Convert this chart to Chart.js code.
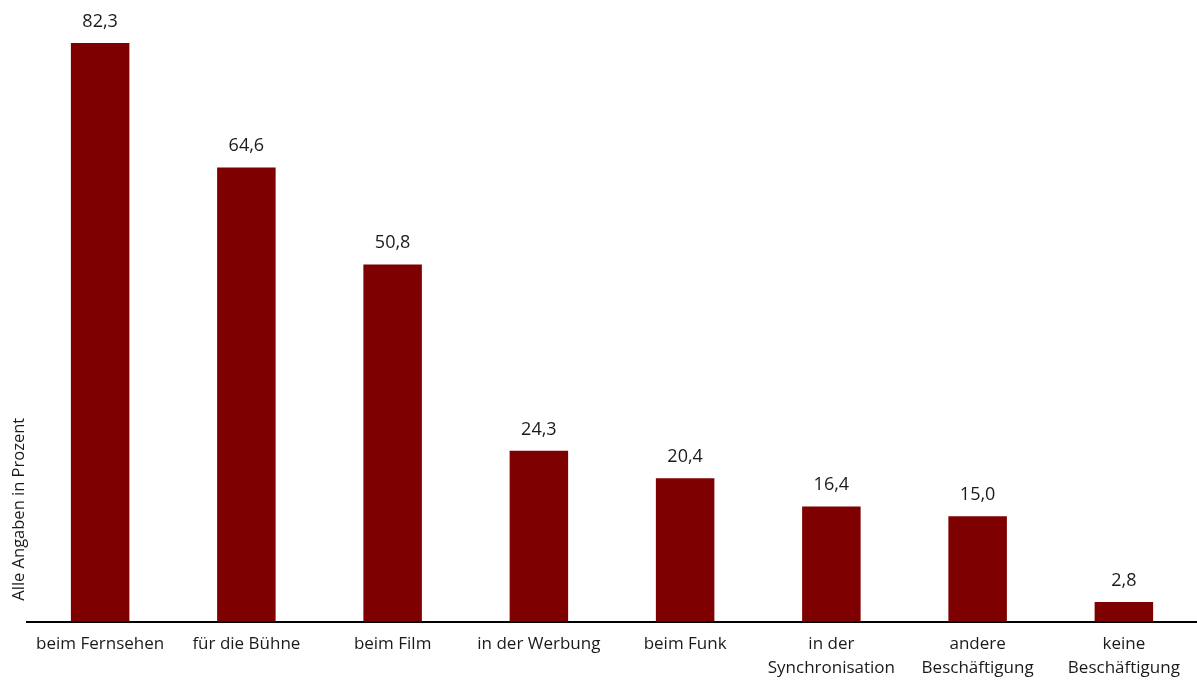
<!DOCTYPE html>
<html>
<head>
<meta charset="utf-8">
<script src="https://cdn.jsdelivr.net/npm/chart.js@4/dist/chart.umd.min.js"></script>
<style>
  html, body { margin: 0; padding: 0; background: #fff; }
  #wrap { width: 1197px; height: 680px; position: relative; }
</style>
</head>
<body>
<div id="wrap"><canvas id="chart"></canvas></div>
<script>
// Daten
const categories = [
    ["beim Fernsehen"],
    ["für die Bühne"],
    ["beim Film"],
    ["in der Werbung"],
    ["beim Funk"],
    ["in der", "Synchronisation"],
    ["andere", "Beschäftigung"],
    ["keine", "Beschäftigung"]
];
const values = [82.3, 64.6, 50.8, 24.3, 20.4, 16.4, 15.0, 2.8];
const axisTitle = "Alle Angaben in Prozent";

const barColor = "#7f0000";
const textColor = "#1a1a1a";
const fontFamily = "'Open Sans', 'Noto Sans', sans-serif";

// Werte über den Balken
const valueLabels = {
    id: 'valueLabels',
    afterDatasetsDraw(chart) {
        const ctx = chart.ctx;
        const meta = chart.getDatasetMeta(0);
        ctx.save();
        ctx.font = "18px " + fontFamily;
        ctx.fillStyle = textColor;
        ctx.textAlign = 'center';
        ctx.textBaseline = 'alphabetic';
        meta.data.forEach((bar, i) => {
            const txt = values[i].toFixed(1).replace('.', ',');
            ctx.fillText(txt, bar.x, bar.y - 16);
        });
        ctx.restore();
    }
};

// Achsentitel links
const yTitle = {
    id: 'yTitle',
    afterDraw(chart) {
        const ctx = chart.ctx;
        ctx.save();
        ctx.translate(24, chart.chartArea.bottom - 21);
        ctx.rotate(-Math.PI / 2);
        ctx.font = "16.5px " + fontFamily;
        ctx.fillStyle = textColor;
        ctx.textAlign = 'left';
        ctx.fillText(axisTitle, 0, 0);
        ctx.restore();
    }
};

const ctx = document.getElementById('chart').getContext('2d');
const myChart = new Chart(ctx, {
    type: 'bar',
    data: {
        labels: categories,
        datasets: [{
            data: values,
            backgroundColor: barColor,
            barPercentage: 0.4,
            categoryPercentage: 1.0
        }]
    },
    options: {
        responsive: true,
        maintainAspectRatio: false,
        animation: false,
        layout: { padding: { left: 27, right: 0, top: 0, bottom: -10 } },
        plugins: {
            legend: { display: false },
            tooltip: { enabled: false }
        },
        scales: {
            x: {
                grid: { display: false, drawTicks: false },
                border: { display: true, color: '#000', width: 2 },
                ticks: {
                    color: textColor,
                    padding: 10,
                    maxRotation: 0,
                    autoSkip: false,
                    font: { family: fontFamily, size: 17, lineHeight: 1.42 }
                }
            },
            y: {
                display: false,
                min: 0,
                max: 88.4
            }
        }
    },
    plugins: [valueLabels, yTitle]
});
</script>
</body>
</html>
